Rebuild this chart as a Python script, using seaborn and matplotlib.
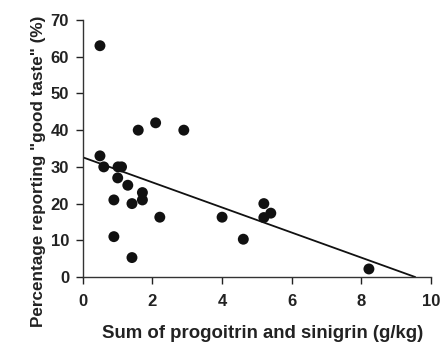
import matplotlib
matplotlib.use("Agg")
import matplotlib.pyplot as plt
import seaborn as sns
import pandas as pd

# Data
glucosinolate = [0.49, 0.49, 0.60, 1.01, 1.11, 1.59, 2.09, 2.90, 1.00,
                 0.89, 1.29, 1.71, 1.71, 1.41, 2.21, 0.89, 1.41, 4.00,
                 5.20, 5.20, 5.40, 4.61, 8.22]
good_taste = [63, 33, 30, 30, 30, 40, 42, 40, 27,
              21, 25, 23, 21, 20, 16.3, 11, 5.3, 16.3,
              20, 16.2, 17.4, 10.3, 2.2]
fit_x = [0.0, 9.55]
fit_y = [32.6, 0.0]
x_ticks = [0, 2, 4, 6, 8, 10]
y_ticks = [0, 10, 20, 30, 40, 50, 60, 70]

df = pd.DataFrame({"x": glucosinolate, "y": good_taste})
fit = pd.DataFrame({"x": fit_x, "y": fit_y})

sns.set_theme(style="ticks")
plt.rcParams["font.family"] = ["Liberation Sans", "DejaVu Sans"]
plt.rcParams["font.weight"] = "bold"

fig = plt.figure(figsize=(4.41, 3.45), dpi=100)
ax = fig.add_axes([0.188, 0.197, 0.789, 0.745])

sns.lineplot(data=fit, x="x", y="y", ax=ax, color="#111111", linewidth=1.3)
sns.scatterplot(data=df, x="x", y="y", ax=ax, color="#111111", s=62,
                edgecolor="none", zorder=3)

ax.set_xlim(0, 10)
ax.set_ylim(0, 70)
ax.set_xticks(x_ticks)
ax.set_yticks(y_ticks)
ax.set_xticklabels([str(t) for t in x_ticks], fontweight="bold")
ax.set_yticklabels([str(t) for t in y_ticks], fontweight="bold")
ax.tick_params(axis="both", labelsize=12, colors="#222222", width=1, length=5)
ax.tick_params(axis="y", pad=5)
ax.tick_params(axis="x", pad=7)
ax.set_xlabel("Sum of progoitrin and sinigrin (g/kg)", fontsize=13.4,
              fontweight="bold", color="#222222", labelpad=12)
ax.set_ylabel('Percentage reporting "good taste" (%)', fontsize=12.3,
              fontweight="bold", color="#222222", labelpad=3)
ax.xaxis.label.set_x(0.517)
ax.yaxis.label.set_y(0.41)
sns.despine(ax=ax)
for sp in ("left", "bottom"):
    ax.spines[sp].set_color("#333333")
    ax.spines[sp].set_linewidth(1)

fig.savefig("out.png", dpi=100)
